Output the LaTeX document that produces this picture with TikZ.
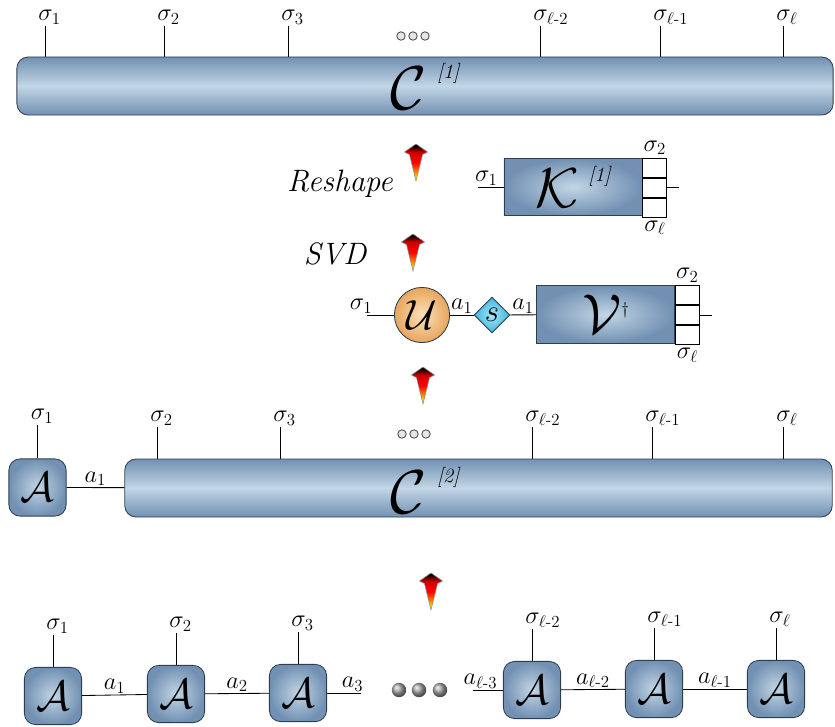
\documentclass[tikz,border=0pt]{standalone}
\usepackage{fix-cm}
\usepackage{amsmath}
\usepackage{amssymb}
\usetikzlibrary{positioning}
\usetikzlibrary{shapes.geometric}

\definecolor{steel}{HTML}{7190B2}
\definecolor{pale}{HTML}{C2D6E5}
\definecolor{rim}{HTML}{2F3E4E}
\definecolor{peach}{HTML}{FBE1BC}
\definecolor{amber}{HTML}{E8A55C}
\definecolor{sky}{HTML}{A6E6F6}
\definecolor{cyanish}{HTML}{3DB6E0}

% black tip fading through red into yellow
\pgfdeclareverticalshading{flame}{100bp}{color(0bp)=(yellow); color(27bp)=(yellow); color(38bp)=(orange);
  color(50bp)=(red); color(64bp)=(red!80!black); color(73bp)=(black); color(100bp)=(black)}

\tikzset{
  slab/.style={draw=rim, rounded corners=8pt, top color=steel, bottom color=steel, middle color=pale, inner sep=0pt},
  tbox/.style={draw=rim, inner color=pale, outer color=steel, inner sep=0pt},
  abox/.style={draw=rim, rounded corners=8pt, inner color=pale, outer color=steel, minimum size=1.43cm, inner sep=0pt, font=\fontsize{30}{30}\selectfont},
  cell/.style={draw, fill=white, minimum width=0.6cm, minimum height=0.475cm, inner sep=0pt},
  sig/.style={anchor=south west, xshift=-6pt, inner sep=1pt, font=\LARGE},
  bond/.style={font=\LARGE, inner sep=1pt},
  gapdot/.style={circle, draw=black!70, fill=black!10, inner sep=0pt, minimum size=6pt},
  bead/.style={circle, ball color=black!35, inner sep=0pt, minimum size=0.36cm},
  fire/.pic={\shade[shading=flame, draw=black!45, line width=0.4pt]
    (0,0) -- (11.5,8) -- (6.5,10.5) -- (0,37) -- (-6.5,10.5) -- (-11.5,8) -- cycle;},
}

\begin{document}
\begin{tikzpicture}[x=0.025cm, y=-0.025cm, line width=0.6pt]
\useasboundingbox (0,0) rectangle (835,726);

% full coefficient tensor
\node[slab, minimum width=20.4cm, minimum height=1.45cm, font=\fontsize{44}{44}\selectfont] (c1) at (425,86)
  {$\mathcal{C}$\,\raisebox{22pt}{\Large\itshape [1]}};
\foreach \x/\s [count=\i] in {45/1, 164/2, 288/3, 540/{\ell\text{-}2}, 660/{\ell\text{-}1}, 783/\ell}{
  \coordinate (t\i) at (\x,26);
  \draw (t\i) -- (t\i |- c1.north);
  \node[sig] (st\i) at (t\i) {$\sigma_{\s}$};
}
\foreach \x [count=\i] in {401,413,425}
  \node[gapdot] (dt\i) at (\x,36) {};

\pic at (416,144) {fire};
\pic at (413,234) {fire};
\pic at (423,367) {fire};
\pic at (431,573) {fire};

\node[font=\fontsize{22}{22}\selectfont\itshape] (reshape) at (340,184) {Reshape};
\node[font=\fontsize{22}{22}\selectfont\itshape] (svd) at (335,254) {SVD};

% reshaped matrix
\node[tbox, minimum width=3.45cm, minimum height=1.43cm, font=\fontsize{40}{40}\selectfont] (k) at (573,187)
  {$\mathcal{K}$\,\raisebox{18pt}{\Large\itshape [1]}};
\node[cell, anchor=north west] (k1) at (k.north east) {};
\node[cell, below=0pt of k1] (k2) {};
\node[cell, below=0pt of k2] (k3) {};
\coordinate (kr) at ([xshift=0.3cm]k2.east);
\draw (k2.east) -- (kr);
\coordinate (kl) at ([xshift=-0.65cm]k.west);
\draw (kl) -- (k.west);
\node[bond, anchor=south west] (sk1) at ([xshift=-3pt]kl) {$\sigma_1$};
\node[bond, above=1pt of k1] (sk2) {$\sigma_2$};
\node[bond, below=1pt of k3] (sk3) {$\sigma_\ell$};

% after the SVD
\node[circle, draw=rim, inner color=peach, outer color=amber, minimum size=1.38cm, inner sep=0pt,
  font=\fontsize{30}{30}\selectfont] (u) at (422,315) {$\mathcal{U}$};
\node[diamond, draw=rim, inner color=sky, outer color=cyanish, minimum size=0.9cm, inner sep=0pt,
  font=\fontsize{22}{22}\selectfont] (s) at (492,315) {$s$};
\node[tbox, minimum width=3.45cm, minimum height=1.43cm, font=\fontsize{40}{40}\selectfont] (v) at (605.5,314.5)
  {$\mathcal{V}$\raisebox{14pt}{\large$\dagger$}};
\node[cell, anchor=north west] (v1) at (v.north east) {};
\node[cell, below=0pt of v1] (v2) {};
\node[cell, below=0pt of v2] (v3) {};
\coordinate (vr) at ([xshift=0.3cm]v2.east);
\draw (v2.east) -- (vr);
\coordinate (ul) at ([xshift=-0.68cm]u.west);
\draw (ul) -- (u.west);
\node[bond, anchor=south] (su1) at ([xshift=-4pt]ul) {$\sigma_1$};
\draw (u) -- node[bond, above] (us) {$a_1$} (s);
\draw (s) -- node[bond, above] (sv) {$a_1$} (v);
\node[bond, above=1pt of v1] (sv2) {$\sigma_2$};
\node[bond, below=1pt of v3] (sv3) {$\sigma_\ell$};

% first site split off
\node[abox] (a0) at (37.5,487.5) {$\mathcal{A}$};
\node[slab, minimum width=17.68cm, minimum height=1.45cm] (c2) at (478.5,488) {};
\node[font=\fontsize{44}{44}\selectfont] (c2lab) at (425,490)
  {$\mathcal{C}$\,\raisebox{22pt}{\Large\itshape [2]}};
\draw (a0) -- node[bond, above] (b0) {$a_1$} (c2);
\coordinate (ta0) at (37.5,425);
\draw (ta0) -- (a0.north);
\node[sig] (sa0) at (ta0) {$\sigma_1$};
\foreach \x/\s [count=\i] in {157/2, 280/3, 532/{\ell\text{-}2}, 652/{\ell\text{-}1}, 783/\ell}{
  \coordinate (u\i) at (\x,427);
  \draw (u\i) -- (u\i |- c2.north);
  \node[sig] (su\i) at (u\i) {$\sigma_{\s}$};
}
\foreach \x [count=\i] in {402,414,426}
  \node[gapdot] (du\i) at (\x,434) {};

% matrix product state
\foreach \x/\py/\s [count=\i] in {53/696/1, 176/694/2, 298/693/3, 532/690/{\ell\text{-}2}, 654/689/{\ell\text{-}1}, 776/689/\ell}{
  \node[abox] (m\i) at (\x,\py) {$\mathcal{A}$};
  \coordinate (tm\i) at (\x,\py-61);
  \draw (tm\i) -- (m\i.north);
  \node[sig] (sm\i) at (tm\i) {$\sigma_{\s}$};
}
\draw (m1) -- node[bond, above] (bm1) {$a_1$} (m2);
\draw (m2) -- node[bond, above] (bm2) {$a_2$} (m3);
\coordinate (r3) at ([xshift=0.85cm]m3.east);
\draw (m3.east) -- node[bond, above, pos=0.75] (bm3) {$a_3$} (r3);
\coordinate (l4) at ([xshift=-0.75cm]m4.west);
\draw (l4) -- node[bond, above, pos=0.25] (bm4) {$a_{\ell\text{-}3}$} (m4.west);
\draw (m4) -- node[bond, above] (bm5) {$a_{\ell\text{-}2}$} (m5);
\draw (m5) -- node[bond, above] (bm6) {$a_{\ell\text{-}1}$} (m6);
\foreach \x [count=\i] in {399,419,440}
  \node[bead] (bd\i) at (\x,690) {};
\end{tikzpicture}
\end{document}
